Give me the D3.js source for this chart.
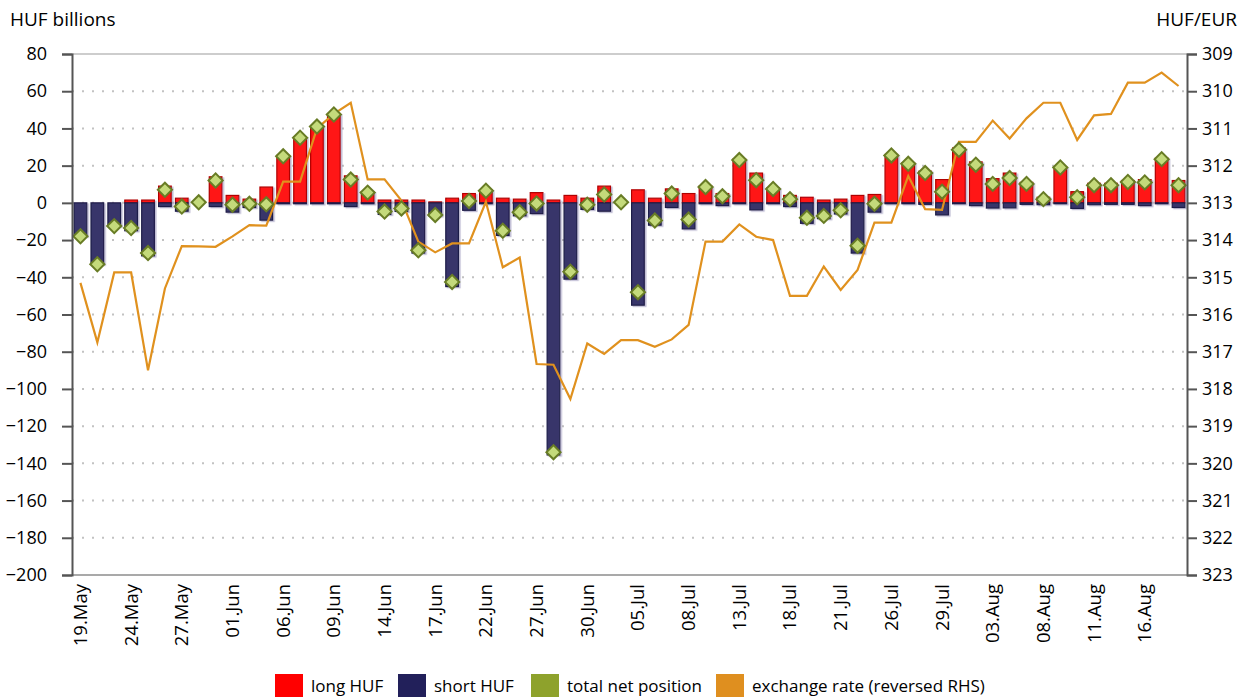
<!DOCTYPE html>
<html>
<head>
<meta charset="utf-8">
<script src="https://cdn.jsdelivr.net/npm/d3@7"></script>
<style>
  html, body { margin: 0; padding: 0; background: #fff; }
  svg { display: block; font-family: "Open Sans", "Liberation Sans", sans-serif; }
</style>
</head>
<body>
<svg id="chart" width="1245" height="697"></svg>
<script>
// Business days, 19 May - 18 Aug
const dates = [
  "19.May","20.May","23.May","24.May","25.May","26.May","27.May","30.May","31.May",
  "01.Jun","02.Jun","03.Jun","06.Jun","07.Jun","08.Jun","09.Jun","10.Jun","13.Jun","14.Jun",
  "15.Jun","16.Jun","17.Jun","20.Jun","21.Jun","22.Jun","23.Jun","24.Jun","27.Jun","28.Jun",
  "29.Jun","30.Jun","01.Jul","04.Jul","05.Jul","06.Jul","07.Jul","08.Jul","11.Jul","12.Jul",
  "13.Jul","14.Jul","15.Jul","18.Jul","19.Jul","20.Jul","21.Jul","22.Jul","25.Jul","26.Jul",
  "27.Jul","28.Jul","29.Jul","01.Aug","02.Aug","03.Aug","04.Aug","05.Aug","08.Aug","09.Aug",
  "10.Aug","11.Aug","12.Aug","15.Aug","16.Aug","17.Aug","18.Aug"
];

// HUF billions
const longHUF = [
  0, 0, 0, 1.5, 1.5, 9, 2.5, 0, 14, 4, 2, 8.5, 25.5, 35.5, 41.5, 48, 14.5,
  6, 1.5, 1.5, 1.5, 0.5, 2.5, 5, 7, 2.5, 2, 5.5, 1.5, 4, 2.5, 9, 0,
  7, 2.5, 7.5, 5, 9, 5, 23.5, 16, 8, 4, 3, 1.5, 2, 4, 4.5, 26,
  21.5, 17, 12.5, 29.5, 22, 13, 16, 11, 3, 19.5, 6, 10.5, 10.5, 12, 12.5, 24, 12
];
const shortHUF = [
  -18, -33, -12.5, -15, -28.5, -2, -4.5, 0, -2, -5, -2.5, -9.3, -0.5, -0.5, -0.5, -0.5, -2,
  -0.5, -6.2, -4.6, -27, -7, -45, -4, -0.5, -17.5, -7, -5.8, -135.5, -41, -3.5, -4.5, 0,
  -55, -12, -2.5, -14, -0.5, -1.5, -0.5, -3.8, -0.5, -2, -11, -8.5, -6, -27, -5, -0.5,
  -0.5, -0.8, -6.5, -0.5, -1.5, -2.8, -2.7, -0.8, -1, -0.5, -3, -1, -0.8, -0.8, -1.5, -0.5, -2.5
];
const netPosition = [
  -18, -33, -12.5, -13.5, -27, 7, -2, 0.3, 12, -1, -0.5, -0.8, 25, 35, 41, 47.5, 12.5,
  5.5, -4.7, -3, -25.5, -6.5, -42.5, 1, 6.5, -15, -5, -0.3, -134, -37, -1, 4.5, 0.3,
  -48, -9.5, 5, -9, 8.5, 3.5, 23, 12.2, 7.5, 2, -8, -7, -4, -23, -0.5, 25.5,
  21, 16, 6, 28.5, 20.5, 10.2, 13.3, 10.2, 2, 19, 3, 9.5, 9.5, 11.2, 11, 23.5, 9.5
];
// HUF/EUR
const exchangeRate = [
  315.15, 316.75, 314.87, 314.87, 317.5, 315.3, 314.16, 314.17, 314.18, 313.9, 313.6, 313.61,
  312.43, 312.43, 311.0, 310.61, 310.31, 312.37, 312.37, 312.94, 314.04, 314.33, 314.09, 314.09,
  312.97, 314.73, 314.47, 317.33, 317.35, 318.27, 316.78, 317.06, 316.69, 316.69, 316.87, 316.67,
  316.28, 314.04, 314.04, 313.58, 313.91, 314.0, 315.5, 315.5, 314.71, 315.34, 314.8, 313.53,
  313.53, 312.28, 313.17, 313.19, 311.36, 311.36, 310.79, 311.27, 310.73, 310.31, 310.31, 311.31,
  310.65, 310.61, 309.77, 309.77, 309.5, 309.86
];

const leftTicks = d3.range(-200, 81, 20);
const rightTicks = d3.range(309, 324, 1);
const legendItems = [
  { label: "long HUF", color: "#ff0000" },
  { label: "short HUF", color: "#22205a" },
  { label: "total net position", color: "#8ea22c" },
  { label: "exchange rate (reversed RHS)", color: "#df8f1f" }
];

const svg = d3.select("#chart");
const plot = { left: 72, right: 1187, top: 54, bottom: 575 };

const x = d3.scaleBand().domain(d3.range(dates.length))
  .range([plot.left, plot.right]).paddingInner(0.25).paddingOuter(0.125);
const y = d3.scaleLinear().domain([-200, 80]).range([plot.bottom, plot.top]);
const yR = d3.scaleLinear().domain([309, 323]).range([plot.top, plot.bottom]);

const defs = svg.append("defs");
const shadow = defs.append("filter").attr("id", "barShadow")
  .attr("x", "-30%").attr("y", "-10%").attr("width", "160%").attr("height", "130%");
shadow.append("feDropShadow").attr("dx", 1.6).attr("dy", 1.2).attr("stdDeviation", 0.7)
  .attr("flood-color", "#8a86b0").attr("flood-opacity", 0.55);

// dotted gridlines
svg.append("g").selectAll("line").data(leftTicks.filter(t => t > -200 && t < 80)).join("line")
  .attr("x1", plot.left).attr("x2", plot.right)
  .attr("y1", d => y(d)).attr("y2", d => y(d))
  .attr("stroke", "#c2c2c2").attr("stroke-width", 2)
  .attr("stroke-dasharray", "2,8").attr("stroke-linecap", "butt");

// plot frame: top and bottom
svg.append("line").attr("x1", plot.left).attr("x2", plot.right)
  .attr("y1", plot.top).attr("y2", plot.top)
  .attr("stroke", "#bdbdbd").attr("stroke-width", 1.5);
svg.append("line").attr("x1", plot.left).attr("x2", plot.right)
  .attr("y1", plot.bottom).attr("y2", plot.bottom)
  .attr("stroke", "#8c8c8c").attr("stroke-width", 1.5);

// bars
const bars = svg.append("g").attr("filter", "url(#barShadow)");
bars.selectAll("rect.long").data(longHUF).join("rect").attr("class", "long")
  .attr("x", (d, i) => x(i)).attr("width", x.bandwidth())
  .attr("y", d => y(d)).attr("height", d => y(0) - y(d))
  .attr("fill", "#ff1717").attr("stroke", "#b00000").attr("stroke-width", 1.2)
  .attr("display", d => d > 0 ? null : "none");
bars.selectAll("rect.short").data(shortHUF).join("rect").attr("class", "short")
  .attr("x", (d, i) => x(i)).attr("width", x.bandwidth())
  .attr("y", y(0)).attr("height", d => y(d) - y(0))
  .attr("fill", "#38366a").attr("stroke", "#1d1b48").attr("stroke-width", 1.2)
  .attr("display", d => d < 0 ? null : "none");

// exchange rate line
const line = d3.line().x((d, i) => x(i) + x.bandwidth() / 2).y(d => yR(d));
svg.append("path").datum(exchangeRate).attr("d", line)
  .attr("fill", "none").attr("stroke", "#e0911e").attr("stroke-width", 2.2)
  .attr("stroke-linejoin", "miter");

// net position markers
const diamond = d3.symbol(d3.symbolSquare, 100);
svg.append("g").selectAll("path").data(netPosition).join("path")
  .attr("d", diamond)
  .attr("transform", (d, i) => `translate(${x(i) + x.bandwidth() / 2},${y(d)}) rotate(45)`)
  .attr("fill", "#c4da7b").attr("stroke", "#687c25").attr("stroke-width", 2);

// left axis
const axL = svg.append("g").attr("transform", `translate(${plot.left},0)`)
  .call(d3.axisLeft(y).tickValues(leftTicks).tickSize(10).tickPadding(15));
axL.select(".domain").attr("stroke", "#555").attr("stroke-width", 2);
axL.selectAll(".tick line").attr("stroke", "#555").attr("stroke-width", 2);
axL.selectAll(".tick text").attr("font-size", 18).attr("fill", "#000")
  .attr("font-family", "Open Sans, sans-serif");

// right axis
const axR = svg.append("g").attr("transform", `translate(${plot.right},0)`)
  .call(d3.axisRight(yR).tickValues(rightTicks).tickSize(10).tickPadding(5));
axR.select(".domain").attr("stroke", "#555").attr("stroke-width", 2);
axR.selectAll(".tick line").attr("stroke", "#555").attr("stroke-width", 2);
axR.selectAll(".tick text").attr("font-size", 18).attr("fill", "#000")
  .attr("font-family", "Open Sans, sans-serif");

// category labels, every third day
const axB = svg.append("g").attr("transform", `translate(0,${plot.bottom})`)
  .call(d3.axisBottom(x).tickValues(d3.range(0, dates.length, 3)).tickSize(0)
    .tickFormat(i => dates[i]));
axB.select(".domain").remove();
axB.selectAll(".tick text")
  .attr("font-size", 18.5).attr("fill", "#000").attr("font-family", "Open Sans, sans-serif")
  .attr("transform", "rotate(-90)").attr("text-anchor", "end")
  .attr("x", -9).attr("y", 0).attr("dy", "0.35em");

// axis titles
svg.append("text").attr("x", 10).attr("y", 26).text("HUF billions")
  .attr("font-size", 19).attr("fill", "#000");
svg.append("text").attr("x", 1237).attr("y", 26).attr("text-anchor", "end").text("HUF/EUR")
  .attr("font-size", 19).attr("fill", "#000");

// legend
const legendX = [275, 398, 531, 716];
const lg = svg.append("g").selectAll("g").data(legendItems).join("g")
  .attr("transform", (d, i) => `translate(${legendX[i]},674)`);
lg.append("rect").attr("width", 28).attr("height", 24).attr("fill", d => d.color);
lg.append("text").attr("x", 36).attr("y", 18).text(d => d.label)
  .attr("font-size", 17).attr("fill", "#000");
</script>
</body>
</html>
